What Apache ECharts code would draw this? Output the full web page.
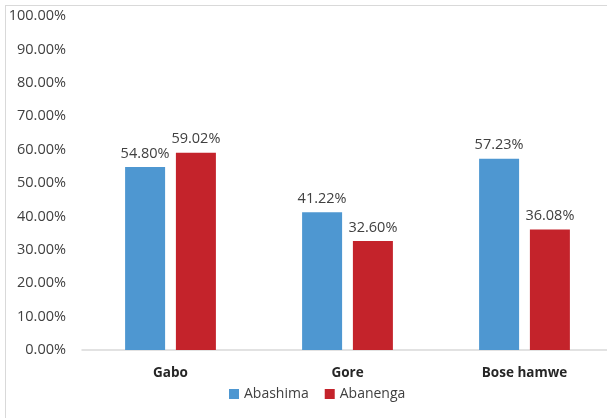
<!DOCTYPE html>
<html><head><meta charset="utf-8">
<script src="https://cdn.jsdelivr.net/npm/echarts@6/dist/echarts.min.js"></script>
<style>html,body{margin:0;padding:0;background:#fff;overflow:hidden}#c{width:607px;height:418px}
#frame{position:absolute;left:5px;top:5px;width:700px;height:500px;border-left:1px solid #d9d9d9;border-top:1px solid #d9d9d9;pointer-events:none}</style>
</head><body><div id="c"></div><div id="frame"></div>
<script>
const categories = ["Gabo", "Gore", "Bose hamwe"];
const abashima = [54.80, 41.22, 57.23];
const abanenga = [59.02, 32.60, 36.08];
const seriesNames = ["Abashima", "Abanenga"];
const yTicks = [0, 10, 20, 30, 40, 50, 60, 70, 80, 90, 100];

const chart = echarts.init(document.getElementById('c'), null, {renderer: 'canvas'});
const font = "Open Sans, Liberation Sans, sans-serif";
const lbl = {show: true, position: 'top', distance: 6, color: '#404040', fontSize: 14.5, fontFamily: font,
  formatter: p => p.value.toFixed(2) + '%'};
chart.setOption({
  animation: false,
  grid: {left: 82, width: 531, top: 16, height: 334, outerBoundsMode: 'none', containLabel: false},
  legend: {bottom: 12, left: 224, itemWidth: 10, itemHeight: 10, itemGap: 16, icon: 'rect',
    textStyle: {color: '#404040', fontSize: 14, fontFamily: font}, data: seriesNames},
  xAxis: {type: 'category', data: categories,
    axisLine: {lineStyle: {color: '#d9d9d9', width: 1.5}}, axisTick: {show: false},
    axisLabel: {color: '#262626', fontWeight: 'bold', fontSize: 13.5, fontFamily: font, margin: 16}},
  yAxis: {type: 'value', min: yTicks[0], max: yTicks[yTicks.length - 1], interval: 10,
    splitLine: {show: false}, axisLine: {show: false}, axisTick: {show: false},
    axisLabel: {color: '#404040', fontSize: 14.5, fontFamily: font, margin: 16,
      formatter: v => v.toFixed(2) + '%'}},
  series: [
    {name: seriesNames[0], type: 'bar', data: abashima, barWidth: 40, barGap: '27%',
      itemStyle: {color: '#4e97d1'}, label: lbl},
    {name: seriesNames[1], type: 'bar', data: abanenga, barWidth: 40,
      itemStyle: {color: '#c4232b'}, label: lbl}
  ]
});
</script></body></html>
